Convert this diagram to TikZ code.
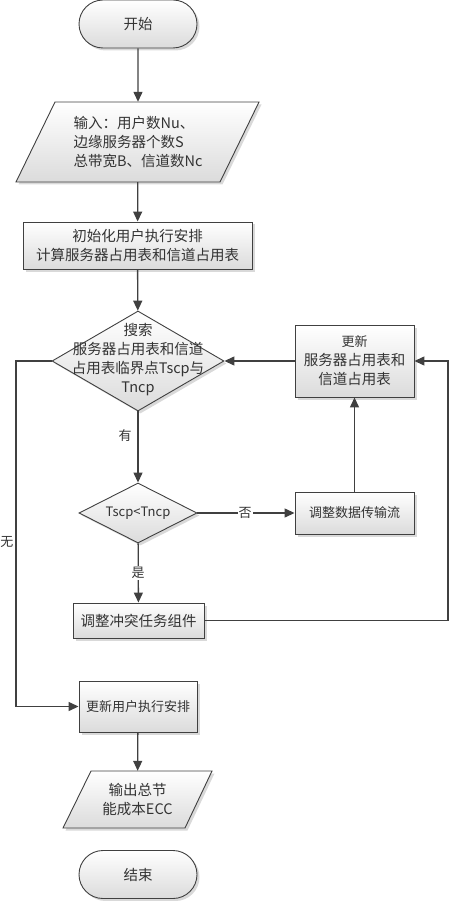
\documentclass[tikz,border=0pt]{standalone}
\usepackage{fontspec}
\setmainfont{Noto Sans CJK SC}
\usetikzlibrary{shapes.geometric,shapes.misc,shadows,arrows.meta}
\definecolor{linec}{HTML}{404040}
\definecolor{textc}{HTML}{333333}
\newcommand\myfa{\fontsize{14.5}{19}\selectfont}
\newcommand\myfb{\fontsize{13}{18}\selectfont}
\begin{document}
\begin{tikzpicture}[x=1pt,y=-1pt,
  shad/.style={draw=linec, line width=0.9pt, top color=white, bottom color=black!14,
     drop shadow={shadow xshift=2.5pt,shadow yshift=-2.5pt,fill=black!15,opacity=1}},
  base/.style={shad, text=textc, font=\myfa, inner sep=0pt, align=center},
  term/.style={base, rounded rectangle, minimum width=118, minimum height=48},
  box/.style={base, rectangle},
  dia/.style={base, diamond, aspect=1.7},
  txt/.style={text=textc, font=\myfa, inner sep=0pt},
  lab/.style={text=textc, font=\myfb, inner sep=1pt},
  conn/.style={draw=linec, line width=1.3pt},
  arr/.style={conn, -{Triangle[length=10pt,width=9pt]}}
]
\useasboundingbox (0,0) rectangle (450,901);

% terminals
\node[term] (start) at (138,24) {开始};
\node[term] (stop) at (138,874.5) {结束};

% input parallelogram
\path[shad] (55,102) -- (259,102) -- (220,182) -- (16,182) -- cycle;
\node[txt, minimum height=80, align=left] (in) at (138,142)
  {输入：用户数Nu、\\边缘服务器个数S\\总带宽B、信道数Nc};

% init box
\node[box, minimum width=229, minimum height=47] (init) at (137.5,245.5)
  {初始化用户执行安排\\计算服务器占用表和信道占用表};

% search diamond
\node[dia, minimum width=172, minimum height=100] (d1) at (138,361) {};
\node[txt, align=center] (d1t) at (138,360)
  {搜索\\服务器占用表和信道\\占用表临界点Tscp与\\Tncp};

% update table box
\node[box, minimum width=119, minimum height=72] (upd) at (354.5,361)
  {{\myfb 更新}\\服务器占用表和\\信道占用表};

% compare diamond
\node[dia, minimum width=118, minimum height=60, font=\myfb] (d2) at (138,513) {Tscp<Tncp};

% adjust data flow
\node[box, minimum width=119, minimum height=42, font=\myfb] (adj) at (354.5,513) {调整数据传输流};

% adjust conflict components
\node[box, minimum width=131, minimum height=35] (conf) at (138.5,620.5) {调整冲突任务组件};

% update user schedule
\node[box, minimum width=118, minimum height=51, font=\myfb] (upd2) at (138,706.5) {更新用户执行安排};

% output parallelogram
\path[shad] (91,771) -- (212,771) -- (185,828) -- (63,828) -- cycle;
\node[txt, minimum height=57, align=center] (out) at (137.5,799.5) {输出总节\\能成本ECC};

% routing coordinates
\coordinate (r1) at (448,620.5);
\coordinate (r2) at (448,361);
\coordinate (l1) at (16,361);
\coordinate (l2) at (16,706.5);

% connectors
\draw[arr] (start) -- (in);
\draw[arr] (in) -- (init);
\draw[arr] (init) -- (d1);
\draw[arr] (upd) -- (d1);
\draw[arr] (d1) -- (d2);
\draw[arr] (d2) -- (adj);
\draw[arr] (adj) -- (upd);
\draw[arr] (d2) -- (conf);
\draw[arr] (conf.east) -- (r1) -- (r2) -- (upd.east);
\draw[arr] (d1.west) -- (l1) -- (l2) -- (upd2.west);
\draw[arr] (upd2) -- (out);

% labels
\node[lab] (yes1) at (125,436) {有};
\node[lab, fill=white] (no2) at (245,513) {否};
\node[lab, fill=white] (yes2) at (138,573) {是};
\node[lab] (no1) at (7,542) {无};
\end{tikzpicture}
\end{document}
